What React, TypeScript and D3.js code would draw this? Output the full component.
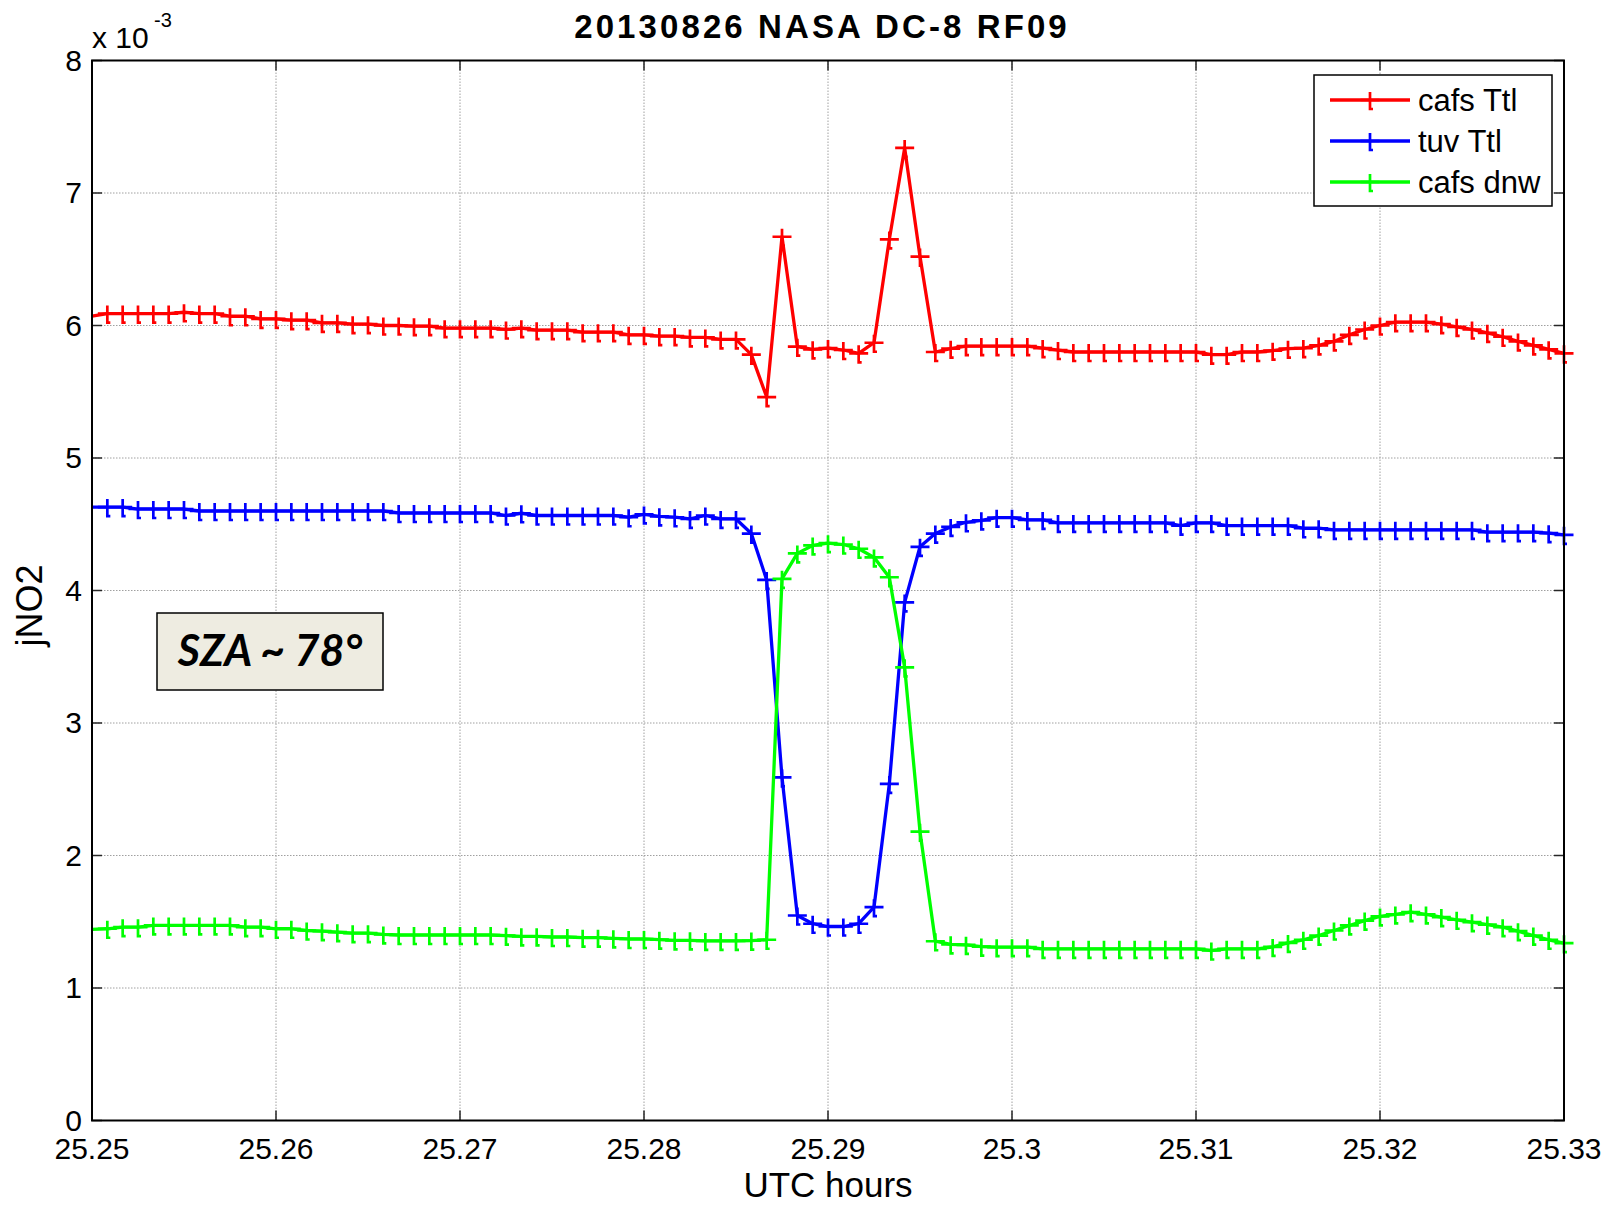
import React from 'react'
import * as d3 from 'd3'

// jNO2 in units of 1e-3, one sample every 3 s from 25.25 h
const cafsTtl = [
  6.07, 6.09, 6.09, 6.09, 6.09, 6.09, 6.10, 6.09, 6.09, 6.07,
  6.07, 6.05, 6.05, 6.04, 6.04, 6.02, 6.02, 6.01, 6.01, 6.00,
  6.00, 5.995, 5.995, 5.98, 5.98, 5.98, 5.98, 5.97, 5.98, 5.965,
  5.965, 5.965, 5.95, 5.95, 5.95, 5.93, 5.93, 5.92, 5.92, 5.91,
  5.91, 5.895, 5.895, 5.78, 5.46, 6.67, 5.84, 5.82, 5.83, 5.815,
  5.79, 5.87, 6.65, 7.34, 6.52, 5.80, 5.825, 5.845, 5.845, 5.845,
  5.845, 5.845, 5.83, 5.815, 5.80, 5.80, 5.80, 5.80, 5.80, 5.80,
  5.80, 5.80, 5.80, 5.78, 5.78, 5.80, 5.80, 5.81, 5.825, 5.83,
  5.85, 5.88, 5.93, 5.97, 6.00, 6.025, 6.025, 6.025, 6.01, 5.99,
  5.97, 5.945, 5.915, 5.88, 5.85, 5.82, 5.79
]
const tuvTtl = [
  4.63, 4.63, 4.63, 4.615, 4.615, 4.615, 4.615, 4.60, 4.60, 4.60,
  4.60, 4.60, 4.60, 4.60, 4.60, 4.60, 4.60, 4.60, 4.60, 4.60,
  4.585, 4.585, 4.585, 4.585, 4.585, 4.585, 4.585, 4.566, 4.583, 4.566,
  4.566, 4.566, 4.566, 4.566, 4.566, 4.553, 4.574, 4.56, 4.553, 4.54,
  4.566, 4.54, 4.54, 4.43, 4.08, 2.59, 1.547, 1.485, 1.464, 1.464,
  1.485, 1.61, 2.54, 3.91, 4.33, 4.43, 4.48, 4.515, 4.53, 4.55,
  4.55, 4.533, 4.533, 4.51, 4.51, 4.51, 4.51, 4.51, 4.51, 4.51,
  4.51, 4.49, 4.51, 4.51, 4.49, 4.49, 4.49, 4.49, 4.49, 4.47,
  4.47, 4.458, 4.458, 4.458, 4.458, 4.458, 4.458, 4.458, 4.458, 4.458,
  4.458, 4.44, 4.44, 4.44, 4.44, 4.433, 4.42
]
const cafsDnw = [
  1.442, 1.447, 1.459, 1.459, 1.472, 1.472, 1.472, 1.472, 1.472, 1.472,
  1.459, 1.459, 1.447, 1.447, 1.434, 1.429, 1.421, 1.414, 1.414, 1.404,
  1.40, 1.40, 1.40, 1.40, 1.40, 1.40, 1.40, 1.395, 1.39, 1.39,
  1.385, 1.385, 1.38, 1.38, 1.375, 1.37, 1.37, 1.365, 1.36, 1.36,
  1.355, 1.355, 1.355, 1.358, 1.364, 4.088, 4.28, 4.34, 4.357, 4.347,
  4.315, 4.25, 4.10, 3.42, 2.18, 1.353, 1.33, 1.326, 1.313, 1.308,
  1.308, 1.308, 1.296, 1.296, 1.296, 1.296, 1.296, 1.296, 1.296, 1.296,
  1.296, 1.296, 1.296, 1.283, 1.296, 1.296, 1.296, 1.31, 1.34, 1.364,
  1.396, 1.434, 1.472, 1.509, 1.54, 1.555, 1.572, 1.555, 1.535, 1.515,
  1.497, 1.479, 1.459, 1.429, 1.396, 1.364, 1.338
]

const startHour = 25.25
const stepSeconds = 3

const xTicks = [25.25, 25.26, 25.27, 25.28, 25.29, 25.3, 25.31, 25.32, 25.33]
const xTickLabels = ['25.25', '25.26', '25.27', '25.28', '25.29', '25.3', '25.31', '25.32', '25.33']
const yTicks = [0, 1, 2, 3, 4, 5, 6, 7, 8]

const seriesNames = ['cafs Ttl', 'tuv Ttl', 'cafs dnw']
const seriesColors = ['#ff0000', '#0000ff', '#00ff00']

export default function App() {
  const width = 1610
  const height = 1206
  const marginLeft = 92
  const marginRight = 46
  const marginTop = 60.5
  const marginBottom = 85.5

  const x = d3.scaleLinear().domain([25.25, 25.33]).range([marginLeft, width - marginRight])
  const y = d3.scaleLinear().domain([0, 8]).range([height - marginBottom, marginTop])

  const series = [cafsTtl, tuvTtl, cafsDnw].map((vals) =>
    vals.map((v, i) => ({ t: startHour + (i * stepSeconds) / 3600, v }))
  )

  const line = d3.line<{ t: number; v: number }>()
    .x(d => x(d.t))
    .y(d => y(d.v))

  const plus = (cx: number, cy: number) =>
    `M${cx - 9.5},${cy}H${cx + 9.5}M${cx},${cy - 8}V${cy + 9}h3`

  const font = 'Liberation Sans, Arial, sans-serif'
  const x0 = marginLeft, x1 = width - marginRight
  const y0 = height - marginBottom, y1 = marginTop

  return (
    <svg width={width} height={height} style={{ position: 'absolute', left: 0, top: 0, background: 'white' }}>
      <rect x={0} y={0} width={width} height={height} fill="white" />
      {/* grid */}
      <g stroke="#a0a0a0" strokeWidth="1" strokeDasharray="1.5,1.5">
        {xTicks.slice(1, -1).map(t => (
          <line key={'gx' + t} x1={x(t)} x2={x(t)} y1={y1} y2={y0} />
        ))}
        {yTicks.slice(1, -1).map(t => (
          <line key={'gy' + t} x1={x0} x2={x1} y1={y(t)} y2={y(t)} />
        ))}
      </g>
      {/* ticks */}
      <g stroke="#262626" strokeWidth="1.5">
        {xTicks.map(t => (
          <g key={'tx' + t}>
            <line x1={x(t)} x2={x(t)} y1={y0} y2={y0 - 10} />
            <line x1={x(t)} x2={x(t)} y1={y1} y2={y1 + 10} />
          </g>
        ))}
        {yTicks.map(t => (
          <g key={'ty' + t}>
            <line x1={x0} x2={x0 + 10} y1={y(t)} y2={y(t)} />
            <line x1={x1} x2={x1 - 10} y1={y(t)} y2={y(t)} />
          </g>
        ))}
      </g>
      {/* series */}
      {series.map((s, si) => (
        <g key={seriesNames[si]}>
          <path d={line(s) || ''} fill="none" stroke={seriesColors[si]} strokeWidth="3.3" strokeLinejoin="round" />
          <path
            d={s.filter((d, i) => i > 0).map(d => plus(x(d.t), y(d.v))).join('')}
            fill="none"
            stroke={seriesColors[si]}
            strokeWidth="2.7"
          />
        </g>
      ))}
      {/* axes box */}
      <rect x={x0} y={y1} width={x1 - x0} height={y0 - y1} fill="none" stroke="#000" strokeWidth="2" />
      {/* tick labels */}
      <g fontFamily={font} fontSize="30" fill="#000">
        {xTicks.map((t, i) => (
          <text key={'lx' + t} x={x(t)} y={y0 + 38} textAnchor="middle">{xTickLabels[i]}</text>
        ))}
        {yTicks.map(t => (
          <text key={'ly' + t} x={x0 - 10} y={y(t) + 10} textAnchor="end">{t}</text>
        ))}
        <text x={x0} y={48}>x 10</text>
        <text x={x0 + 62} y={27} fontSize="20">-3</text>
      </g>
      <text x={(x0 + x1) / 2} y={1197} textAnchor="middle" fontFamily={font} fontSize="35">UTC hours</text>
      <text transform={`translate(42,${(y0 + y1) / 2 + 15}) rotate(-90)`} textAnchor="middle" fontFamily={font} fontSize="36">jNO2</text>
      <text x={822} y={38} textAnchor="middle" fontFamily={font} fontSize="33" fontWeight="bold" letterSpacing="3.1">20130826 NASA DC-8 RF09</text>
      {/* legend */}
      <g>
        <rect x={1314} y={75} width={238} height={131} fill="white" stroke="#000" strokeWidth="1.5" />
        {seriesNames.map((n, i) => {
          const ly = 100 + i * 41
          return (
            <g key={'lg' + n}>
              <line x1={1330} x2={1410} y1={ly} y2={ly} stroke={seriesColors[i]} strokeWidth="3.3" />
              <path d={plus(1370, ly)} fill="none" stroke={seriesColors[i]} strokeWidth="2.7" />
              <text x={1418} y={ly + 11} fontFamily={font} fontSize="31">{n}</text>
            </g>
          )
        })}
      </g>
      {/* annotation */}
      <rect x={157} y={613} width={226} height={77} fill="#eeece1" stroke="#000" strokeWidth="1.5" />
      <text x={270} y={666} textAnchor="middle" fontFamily="Lato, 'Open Sans', sans-serif" fontSize="43" fontWeight="bold" fontStyle="italic">SZA ~ 78°</text>
    </svg>
  )
}
